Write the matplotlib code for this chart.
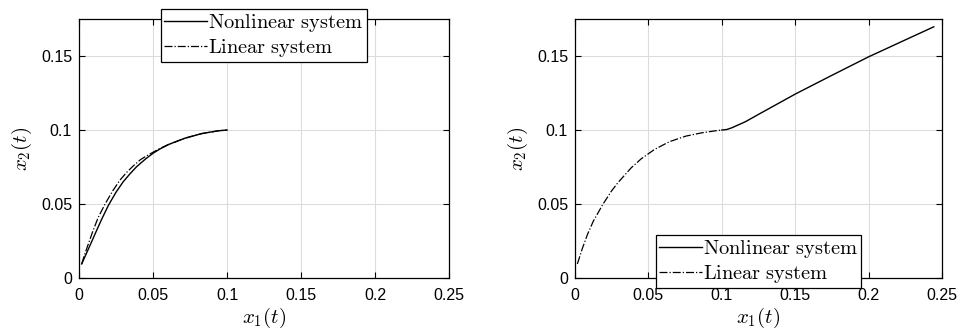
import numpy as np
import matplotlib
matplotlib.use('Agg')
import matplotlib.pyplot as plt

plt.rcParams['font.family'] = ['Liberation Sans', 'DejaVu Sans']
plt.rcParams['mathtext.fontset'] = 'cm'

# ------------------ Data ------------------
# left panel: both systems from the same start point
left_nl_x = [0.0018, 0.0063, 0.0108, 0.0153, 0.0198, 0.025, 0.0299, 0.0345, 0.0389, 0.045,
             0.050, 0.0547, 0.0604, 0.0716, 0.0829, 0.0941, 0.1]
left_nl_y = [0.0095, 0.0195, 0.0297, 0.0397, 0.0490, 0.0580, 0.0651, 0.0705, 0.0752, 0.0805,
             0.0843, 0.0872, 0.0902, 0.0945, 0.0976, 0.0995, 0.1]
left_lin_x = [0.0018, 0.0035, 0.0063, 0.0092, 0.0130, 0.0176, 0.0225, 0.0277, 0.0320, 0.0367,
              0.0415, 0.0457, 0.050, 0.0547, 0.0604, 0.0716, 0.0829, 0.0941, 0.1]
left_lin_y = [0.0095, 0.0150, 0.0230, 0.0313, 0.0410, 0.0500, 0.0585, 0.0662, 0.0712, 0.0758,
              0.0800, 0.0826, 0.0850, 0.0876, 0.0902, 0.0945, 0.0976, 0.0995, 0.1]

# right panel: linear part up to 0.1, then nonlinear part
right_lin_x = [0.0016, 0.005, 0.0085, 0.0125, 0.0191, 0.025, 0.0293, 0.0383, 0.045, 0.054,
               0.0642, 0.0755, 0.0867, 0.0957, 0.1]
right_lin_y = [0.0095, 0.0200, 0.0295, 0.0385, 0.0500, 0.0590, 0.0645, 0.0745, 0.0805, 0.0868,
               0.0921, 0.0959, 0.0982, 0.0995, 0.1]
right_nl_x = [0.1, 0.1035, 0.107, 0.116, 0.125, 0.15, 0.175, 0.2, 0.2444]
right_nl_y = [0.1, 0.1004, 0.1016, 0.1056, 0.1106, 0.1243, 0.1370, 0.1495, 0.1698]

x_ticks = [0, 0.05, 0.1, 0.15, 0.2, 0.25]
x_ticklabels = ['0', '0.05', '0.1', '0.15', '0.2', '0.25']
y_ticks = [0, 0.05, 0.1, 0.15]
y_ticklabels = ['0', '0.05', '0.1', '0.15']

lab_nl = r'$\mathrm{Nonlinear\ system}$'
lab_lin = r'$\mathrm{Linear\ system}$'

fig = plt.figure(figsize=(9.59, 3.29), dpi=100)
ax1 = fig.add_axes([0.0824, 0.155, 0.3858, 0.787])
ax2 = fig.add_axes([0.5996, 0.155, 0.3827, 0.787])


def style(ax):
    ax.set_xlim(0, 0.25)
    ax.set_ylim(0, 0.175)
    ax.set_xticks(x_ticks)
    ax.set_xticklabels(x_ticklabels)
    ax.set_yticks(y_ticks)
    ax.set_yticklabels(y_ticklabels)
    ax.tick_params(direction='in', top=True, right=True, labelsize=11.5,
                   length=4, width=0.8)
    ax.tick_params(axis='x', pad=7)
    ax.tick_params(axis='y', pad=5)
    ax.grid(True, color='#dcdcdc', linewidth=0.8)
    ax.set_axisbelow(True)
    for s in ax.spines.values():
        s.set_linewidth(0.9)
    ax.set_xlabel(r'$x_1(t)$', fontsize=15, labelpad=2)
    ax.set_ylabel(r'$x_2(t)$', fontsize=15, labelpad=5)


ax1.plot(left_nl_x, left_nl_y, 'k-', linewidth=1.0, label=lab_nl)
ax1.plot(left_lin_x, left_lin_y, 'k-.', linewidth=0.9, label=lab_lin)
style(ax1)
leg1 = ax1.legend(loc='upper center', bbox_to_anchor=(0.5, 1.04), fontsize=14.7,
                  frameon=True, fancybox=False, edgecolor='black', framealpha=1,
                  borderpad=0.15, labelspacing=0.15, handlelength=2.1,
                  handletextpad=0.05, borderaxespad=0)
leg1.get_frame().set_linewidth(0.9)

ax2.plot(right_nl_x, right_nl_y, 'k-', linewidth=1.0, label=lab_nl)
ax2.plot(right_lin_x, right_lin_y, 'k-.', linewidth=0.9, label=lab_lin)
style(ax2)
leg2 = ax2.legend(loc='lower center', bbox_to_anchor=(0.5, -0.04), fontsize=14.7,
                  frameon=True, fancybox=False, edgecolor='black', framealpha=1,
                  borderpad=0.15, labelspacing=0.15, handlelength=2.1,
                  handletextpad=0.05, borderaxespad=0)
leg2.get_frame().set_linewidth(0.9)

fig.savefig('out.png', dpi=100)
